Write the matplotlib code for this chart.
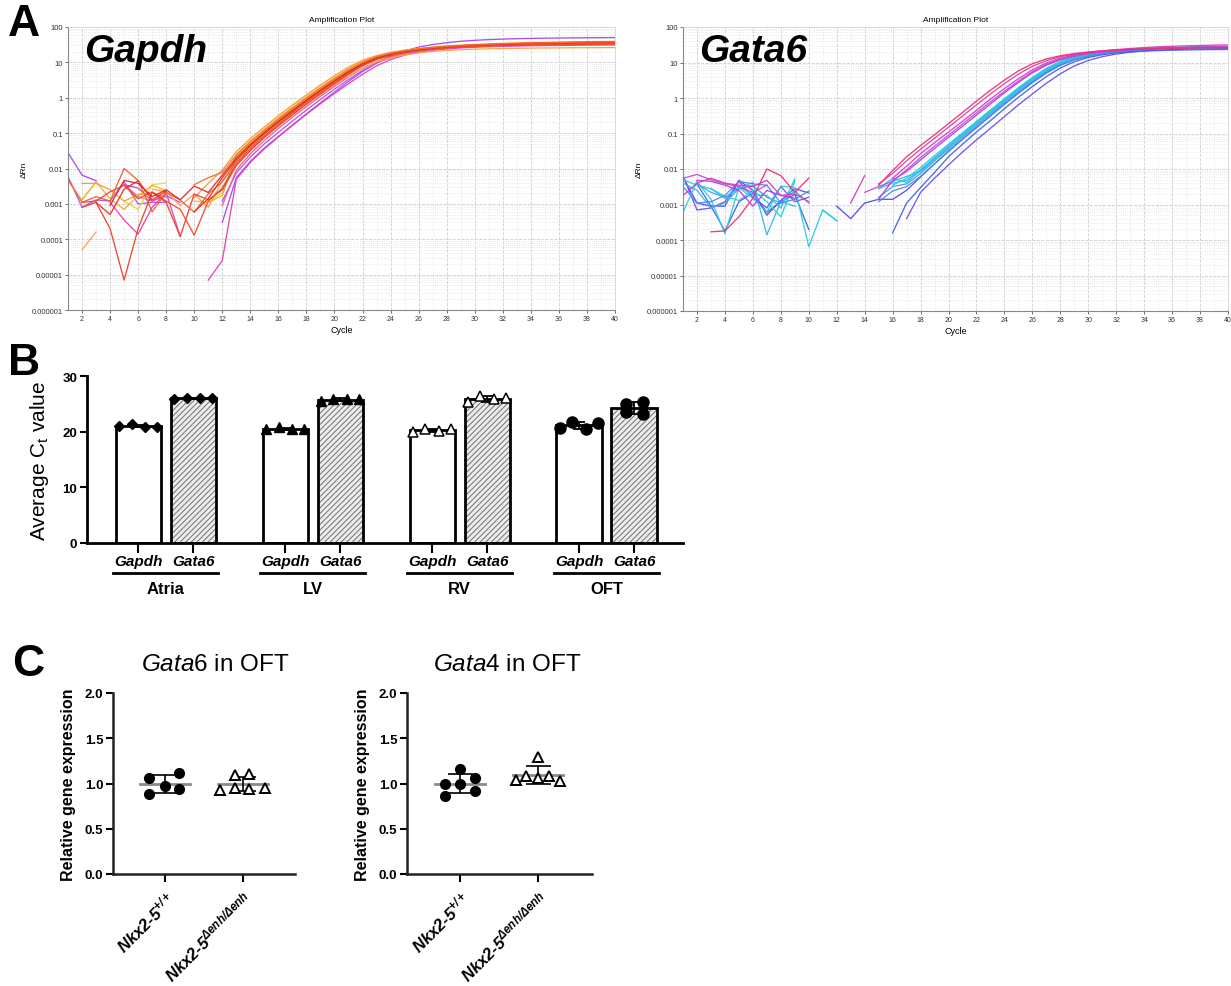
import numpy as np
import matplotlib
matplotlib.use('Agg')
import matplotlib.pyplot as plt
from matplotlib.ticker import LogLocator, MultipleLocator, NullFormatter

plt.rcParams['font.family'] = ['Liberation Sans', 'DejaVu Sans']
plt.rcParams['mathtext.default'] = 'regular'
plt.rcParams['mathtext.fontset'] = 'custom'
plt.rcParams['mathtext.rm'] = 'Liberation Sans'
plt.rcParams['mathtext.it'] = 'Liberation Sans:italic'
plt.rcParams['mathtext.bf'] = 'Liberation Sans:bold'
plt.rcParams['hatch.linewidth'] = 0.7

nan = np.nan
cycles = np.arange(1, 41)

# ---- A: amplification curves, delta Rn per cycle (1..40), nan = not plotted
gapdh_curves = [
    [0.028, 0.0065, 0.0045, nan, 0.0035, 0.0028, 0.0012, 0.0017, 0.0011, nan, nan, 0.0003, 0.0055, 0.016, 0.038, 0.08, 0.17, 0.35, 0.72, 1.45, 2.9, 5.5, 9.5, 15, 21, 27, 32, 36, 39.5, 42, 44, 45.5, 46.7, 47.6, 48.3, 48.9, 49.3, 49.7, 50, 50.2],
    [0.006, 0.0008, 0.0013, 0.0012, 0.0042, 0.001, 0.0011, 0.0011, nan, nan, nan, 0.0012, 0.0075, 0.021, 0.05, 0.105, 0.22, 0.45, 0.9, 1.75, 3.3, 5.9, 9.6, 13.6, 17.4, 20.6, 23.2, 25.3, 26.9, 28.1, 29, 29.7, 30.3, 30.8, 31.2, 31.5, 31.8, 32, 32.2, 32.4],
    [nan, nan, nan, 0.0011, 0.00035, 0.00014, 0.0008, 0.0021, 0.00012, nan, 7e-6, 2.5e-5, 0.005, 0.015, 0.036, 0.078, 0.165, 0.34, 0.68, 1.32, 2.5, 4.6, 8, 12, 16, 19.3, 22, 24, 25.6, 26.8, 27.7, 28.4, 29, 29.5, 29.9, 30.2, 30.5, 30.7, 30.9, 31.1],
    [nan, nan, nan, nan, 0.0035, 0.0016, 0.0012, 0.0019, nan, nan, nan, 0.0009, 0.009, 0.026, 0.062, 0.135, 0.28, 0.56, 1.1, 2.1, 3.9, 6.8, 10.5, 14.3, 17.8, 20.8, 23.2, 25.2, 26.8, 28, 29, 29.8, 30.5, 31.1, 31.6, 32, 32.4, 32.7, 33, 33.2],
    [0.0045, 0.0013, 0.0042, nan, 0.0012, 0.0007, 0.0035, 0.0039, nan, nan, 0.0011, 0.0021, 0.022, 0.05, 0.11, 0.23, 0.47, 0.92, 1.75, 3.2, 5.8, 9.5, 13.8, 17.5, 20.5, 23, 25, 26.6, 27.9, 28.9, 29.7, 30.4, 31, 31.5, 31.9, 32.2, 32.5, 32.8, 33, 33.2],
    [nan, 0.0013, 0.0042, 0.0014, 0.0007, 0.0017, 0.0033, 0.0024, nan, 0.0012, 0.0011, 0.0017, 0.025, 0.06, 0.13, 0.27, 0.54, 1.05, 2, 3.7, 6.6, 10.6, 15, 18.8, 22, 24.8, 27.1, 29.1, 30.8, 32.2, 33.4, 34.5, 35.4, 36.2, 36.9, 37.5, 38, 38.5, 38.9, 39.3],
    [nan, 5e-5, 0.00016, nan, 0.0019, nan, 0.0026, 0.0022, 0.0009, 0.0019, 0.0008, 0.0045, 0.013, 0.034, 0.078, 0.165, 0.33, 0.65, 1.25, 2.3, 4.1, 6.9, 10.2, 13.5, 16.3, 18.6, 20.4, 21.8, 22.8, 23.6, 24.2, 24.6, 25, 25.3, 25.5, 25.7, 25.9, 26, 26.1, 26.2],
    [nan, 0.0038, 0.0038, 0.0025, 0.0012, 0.0018, 0.0021, 0.0015, nan, 0.0015, 0.0038, 0.009, 0.03, 0.07, 0.15, 0.31, 0.62, 1.2, 2.3, 4.2, 7.3, 11.5, 15.5, 19, 22, 24.5, 26.6, 28.4, 29.9, 31.1, 32.1, 33, 33.8, 34.5, 35.1, 35.6, 36, 36.4, 36.7, 37],
    [nan, 0.0008, 0.0011, 0.0002, 7e-6, 0.0002, 0.0021, 0.0011, 0.00012, 0.0019, 0.0013, 0.0025, 0.012, 0.032, 0.075, 0.16, 0.33, 0.66, 1.3, 2.5, 4.6, 8, 12, 15.8, 19, 21.8, 24, 25.8, 27.2, 28.3, 29.2, 29.9, 30.5, 31, 31.4, 31.8, 32.1, 32.4, 32.6, 32.8],
    [0.005, 0.0011, 0.0016, 0.0012, 0.01, 0.0046, 0.0006, 0.0021, 0.0013, 0.00058, 0.0019, 0.0042, 0.016, 0.042, 0.095, 0.2, 0.4, 0.8, 1.55, 2.9, 5.2, 8.8, 13, 16.8, 20, 22.8, 25, 26.8, 28.3, 29.5, 30.4, 31.2, 31.8, 32.3, 32.8, 33.2, 33.5, 33.8, 34, 34.2],
    [nan, 0.0011, 0.0012, 0.0022, 0.0033, 0.0014, 0.0022, 0.0012, 0.0007, 0.00013, 0.0012, 0.0028, 0.014, 0.037, 0.085, 0.18, 0.37, 0.74, 1.42, 2.7, 4.9, 8.4, 12.6, 16.4, 19.6, 22.3, 24.5, 26.3, 27.8, 29, 30, 30.8, 31.5, 32.1, 32.6, 33, 33.4, 33.7, 34, 34.3],
    [nan, nan, nan, 0.0009, 0.0046, 0.0038, 0.0016, 0.0025, 0.0013, 0.0032, 0.0021, 0.0065, 0.02, 0.048, 0.105, 0.22, 0.44, 0.86, 1.65, 3.05, 5.5, 9.2, 13.5, 17.3, 20.5, 23.3, 25.6, 27.6, 29.3, 30.7, 31.9, 32.9, 33.8, 34.6, 35.3, 35.9, 36.4, 36.9, 37.3, 37.7],
    [nan, nan, 0.0011, 0.0005, 0.0026, 0.0045, 0.0013, 0.0023, nan, 0.0006, 0.0014, 0.0055, 0.018, 0.045, 0.1, 0.21, 0.42, 0.83, 1.6, 3, 5.4, 9, 13.3, 17.1, 20.4, 23.2, 25.5, 27.5, 29.2, 30.6, 31.8, 32.8, 33.7, 34.5, 35.2, 35.8, 36.3, 36.8, 37.2, 37.6],
    [nan, nan, nan, nan, nan, nan, nan, nan, nan, 0.0035, 0.0055, 0.0078, 0.024, 0.056, 0.12, 0.25, 0.5, 0.97, 1.85, 3.45, 6.1, 10, 14.3, 18.1, 21.3, 24, 26.3, 28.3, 30, 31.4, 32.6, 33.7, 34.6, 35.4, 36.1, 36.7, 37.2, 37.6, 38, 38.4],
]
gapdh_colors = ['#a646f2', '#b050e8', '#e83cb4', '#f05a8c', '#e6d44a', '#f0b030',
                '#f7a24a', '#f49a36', '#e8402e', '#f25c30', '#ee4a28', '#d62a2a',
                '#e83020', '#f46e2a']

gata6_curves = [
    [0.0065, 0.0007, 0.0008, 0.0012, 0.0045, 0.0016, 0.0008, 0.0032, 0.0012, 0.0016, nan, nan, nan, nan, nan, nan, 0.0004, 0.0022, 0.0055, 0.013, 0.03, 0.066, 0.14, 0.3, 0.64, 1.3, 2.6, 4.8, 8, 11.4, 14.6, 17.3, 19.5, 21.2, 22.5, 23.5, 24.3, 24.9, 25.4, 25.8],
    [nan, 0.0038, 0.0009, 0.00018, 0.0012, 0.0021, 0.0006, 0.0012, 0.0019, 0.0002, nan, nan, nan, nan, nan, 0.00016, 0.0011, 0.003, 0.008, 0.022, 0.05, 0.11, 0.23, 0.5, 1.05, 2.1, 4, 7, 10.5, 13.8, 16.5, 18.5, 20, 21, 21.7, 22.2, 22.6, 22.9, 23.1, 23.3],
    [0.006, 0.0011, 0.0009, 0.0009, 0.0048, 0.0025, 0.0005, 0.0013, 0.0028, 0.0021, nan, 0.0009, 0.0004, 0.0011, 0.0014, 0.0014, 0.0025, 0.006, 0.014, 0.032, 0.07, 0.15, 0.32, 0.68, 1.4, 2.8, 5.2, 8.6, 12, 15, 17.5, 19.5, 21, 22.2, 23.1, 23.8, 24.4, 24.9, 25.3, 25.6],
    [0.0006, 0.0045, 0.0014, 0.00015, 0.003, 0.0015, 0.0006, 0.0033, 0.003, 6.5e-5, 0.0007, 0.00035, nan, nan, 0.0028, 0.0055, 0.0042, 0.009, 0.02, 0.043, 0.092, 0.195, 0.41, 0.86, 1.75, 3.4, 6.2, 9.8, 13.3, 16.3, 18.8, 20.8, 22.4, 23.6, 24.5, 25.2, 25.7, 26.1, 26.4, 26.7],
    [0.004, 0.0025, 0.0008, 0.0011, 0.0028, 0.0042, 0.00014, 0.0012, 0.0009, nan, nan, nan, nan, nan, 0.0028, 0.004, 0.0048, 0.0095, 0.021, 0.045, 0.097, 0.205, 0.43, 0.9, 1.85, 3.6, 6.5, 10.2, 13.7, 16.7, 19.1, 21, 22.5, 23.7, 24.6, 25.3, 25.8, 26.2, 26.5, 26.8],
    [0.005, 0.0035, 0.0028, 0.0017, 0.0013, 0.0025, 0.0012, 0.00045, 0.0045, nan, 0.0007, 0.00035, nan, nan, nan, 0.0035, 0.0055, 0.011, 0.024, 0.05, 0.105, 0.22, 0.46, 0.96, 1.95, 3.8, 6.9, 10.8, 14.4, 17.4, 19.8, 21.7, 23.2, 24.4, 25.3, 26, 26.5, 26.9, 27.2, 27.5],
    [nan, 0.0038, 0.0022, 0.0016, 0.0028, 0.0034, 0.0016, 0.0011, 0.0024, 0.0011, nan, nan, nan, nan, 0.0016, 0.0032, 0.0038, 0.0075, 0.017, 0.037, 0.08, 0.17, 0.36, 0.76, 1.55, 3.05, 5.6, 9.1, 12.6, 15.7, 18.3, 20.4, 22, 23.3, 24.3, 25.1, 25.7, 26.2, 26.6, 26.9],
    [nan, nan, 0.0028, 0.0015, 0.0032, 0.0019, 0.0018, 0.0008, 0.0052, nan, nan, nan, nan, nan, nan, 0.0045, 0.0062, 0.0085, 0.018, 0.039, 0.084, 0.18, 0.38, 0.8, 1.65, 3.25, 6, 9.6, 13.2, 16.3, 18.9, 21, 22.7, 24, 25.2, 26.2, 27, 27.7, 28.3, 28.8],
    [0.0032, 0.0011, 0.0012, 0.0018, 0.0045, 0.0038, 0.0035, 0.0011, 0.0014, 0.0024, nan, nan, nan, nan, 0.0012, 0.0024, 0.0032, 0.0062, 0.014, 0.031, 0.068, 0.145, 0.31, 0.66, 1.35, 2.7, 5, 8.3, 11.8, 15, 17.7, 19.9, 21.6, 22.9, 23.9, 24.7, 25.3, 25.8, 26.2, 26.5],
    [nan, 0.0048, 0.0045, 0.0035, 0.0025, 0.0009, 0.0025, 0.0018, 0.0015, nan, nan, nan, nan, nan, 0.0014, 0.0048, 0.0085, 0.018, 0.038, 0.078, 0.16, 0.33, 0.68, 1.4, 2.75, 5.1, 8.4, 11.9, 15, 17.6, 19.7, 21.4, 22.8, 23.9, 24.8, 25.5, 26.1, 26.6, 27, 27.3],
    [0.0055, 0.007, 0.005, 0.0038, 0.0032, 0.0022, 0.0035, nan, nan, nan, nan, nan, nan, 0.0022, 0.0032, 0.0045, 0.0095, 0.021, 0.044, 0.09, 0.185, 0.38, 0.78, 1.55, 3, 5.5, 8.9, 12.4, 15.5, 18.1, 20.2, 21.9, 23.3, 24.4, 25.3, 26, 26.6, 27.1, 27.5, 27.8],
    [nan, nan, nan, nan, nan, nan, nan, nan, nan, nan, nan, nan, nan, nan, 0.0038, 0.0075, 0.017, 0.036, 0.074, 0.15, 0.31, 0.64, 1.3, 2.55, 4.7, 7.8, 11.3, 14.5, 17.2, 19.4, 21.2, 22.6, 23.7, 24.6, 25.3, 25.9, 26.4, 26.8, 27.1, 27.4],
    [0.0018, 0.004, 0.0055, 0.004, 0.0035, 0.0032, 0.0048, 0.0018, 0.002, 0.0012, nan, nan, 0.0011, 0.0065, nan, 0.0055, 0.012, 0.027, 0.055, 0.11, 0.22, 0.45, 0.93, 1.85, 3.5, 6.2, 9.7, 13.2, 16.2, 18.8, 21, 23, 24.8, 26.3, 27.6, 28.6, 29.5, 30.2, 30.8, 31.3],
    [nan, nan, 0.00017, 0.00018, 0.00045, 0.0015, 0.01, 0.0065, 0.0022, 0.0055, nan, nan, nan, nan, 0.0035, 0.009, 0.022, 0.046, 0.092, 0.19, 0.39, 0.82, 1.65, 3.2, 5.8, 9.2, 12.6, 15.5, 17.9, 19.8, 21.3, 22.5, 23.4, 24.1, 24.7, 25.1, 25.5, 25.8, 26, 26.2],
]
gata6_colors = ['#6a50ec', '#3c64e4', '#5448e6', '#2ec8e6', '#3ab4ea', '#28d0e0',
                '#46a0ec', '#34bce8', '#4c8ce6', '#b23ce0', '#c24ae6', '#e0409e',
                '#d83cb4', '#e8307c']

# ---- B: average Ct values (4 samples each)
tissues = ['Atria', 'LV', 'RV', 'OFT']
genes_b = ['Gapdh', 'Gata6']
ct_gapdh = [[21.0, 21.3, 20.9, 20.9],
            [20.5, 20.8, 20.4, 20.5],
            [19.9, 20.5, 20.1, 20.4],
            [20.6, 21.8, 20.5, 21.6]]
ct_gata6 = [[25.9, 26.1, 26.0, 26.0],
            [25.5, 25.9, 25.8, 25.9],
            [25.3, 26.4, 25.8, 26.0],
            [25.0, 23.5, 25.3, 23.2]]

# ---- C: relative gene expression in OFT
genotypes = ['Nkx2-5$^{+/+}$', 'Nkx2-5$^{Δenh/Δenh}$']
gata6_wt = [1.06, 0.88, 0.97, 1.12, 0.94]
gata6_mut = [0.93, 1.09, 0.95, 1.10, 0.94, 0.95]
gata4_wt = [1.00, 0.86, 1.16, 0.99, 1.06, 0.92]
gata4_mut = [1.04, 1.08, 1.29, 1.06, 1.08, 1.03]

W, H = 1231, 987
fig = plt.figure(figsize=(W / 100, H / 100), dpi=100)


def px(x0, y0, x1, y1):
    return [x0 / W, 1 - y1 / H, (x1 - x0) / W, (y1 - y0) / H]


# ================= A =================
dec = [1e-6, 1e-5, 1e-4, 1e-3, 1e-2, 1e-1, 1, 10, 100]
dec_lab = ['0.000001', '0.00001', '0.0001', '0.001', '0.01', '0.1', '1', '10', '100']


def amp_panel(rect, curves, colors, gene):
    ax = fig.add_axes(rect)
    for vals, c in zip(curves, colors):
        ax.plot(cycles, vals, color=c, lw=0.95, alpha=0.95)
    ax.set_yscale('log')
    ax.set_xlim(1, 40)
    ax.set_ylim(1e-6, 100)
    ax.set_yticks(dec)
    ax.set_yticklabels(dec_lab, fontsize=5.5)
    ax.yaxis.set_minor_locator(LogLocator(base=10, subs=np.arange(2, 10), numticks=20))
    ax.yaxis.set_minor_formatter(NullFormatter())
    ax.set_xticks(np.arange(2, 41, 2))
    ax.set_xticklabels([str(v) for v in range(2, 41, 2)], fontsize=5)
    ax.xaxis.set_minor_locator(MultipleLocator(1))
    ax.grid(which='major', color='#cfcfcf', ls='--', lw=0.6)
    ax.grid(which='minor', color='#e2e2e2', ls=':', lw=0.6)
    ax.set_axisbelow(True)
    ax.tick_params(which='major', length=2, width=0.5, colors='#333', pad=1.5)
    ax.tick_params(which='minor', length=0)
    for s in ['left', 'bottom']:
        ax.spines[s].set_color('#888')
        ax.spines[s].set_linewidth(0.8)
    for s in ['top', 'right']:
        ax.spines[s].set_color('#d5d5d5')
        ax.spines[s].set_linewidth(0.6)
    ax.text(0.03, 0.915, gene, transform=ax.transAxes, fontsize=28,
            fontweight='bold', fontstyle='italic', va='center', ha='left')
    ax.set_xlabel('Cycle', fontsize=6.5, labelpad=2)
    ax.set_ylabel('ΔRn', fontsize=6, labelpad=3)
    ax.set_title('Amplification Plot', fontsize=6, pad=4)
    return ax


amp_panel(px(68, 28, 615, 311), gapdh_curves, gapdh_colors, 'Gapdh')
amp_panel(px(683, 28, 1228, 312), gata6_curves, gata6_colors, 'Gata6')

# ================= B =================
axb = fig.add_axes(px(87, 377, 683, 544))
group_x = np.arange(4) * 2.673
bw = 0.82
pt_off = np.array([-0.35, -0.12, 0.12, 0.35])
markers = [dict(marker='D', ms=5.5, mfc='black'),
           dict(marker='^', ms=6.5, mfc='black'),
           dict(marker='^', ms=7, mfc='white', mew=1.1),
           dict(marker='o', ms=8, mfc='black')]
centers = []
for gi in range(4):
    for k, vals in enumerate([ct_gapdh[gi], ct_gata6[gi]]):
        x = group_x[gi] + k
        centers.append(x)
        m = np.mean(vals)
        sd = np.std(vals, ddof=1)
        if k == 0:
            axb.bar(x, m, bw, color='white', edgecolor='black', lw=2, zorder=2)
        else:
            axb.bar(x, m, bw, color='#ececec', edgecolor='#707070', hatch='//////',
                    lw=0, zorder=2)
            axb.bar(x, m, bw, fill=False, edgecolor='black', lw=2, zorder=3)
        axb.errorbar(x, m, yerr=sd, color='black', capsize=4, lw=1.3, capthick=1.3,
                     zorder=4)
        offs = pt_off if not (gi == 3 and k == 1) else np.array([-0.15, -0.15, 0.16, 0.16])
        axb.plot(x + offs, vals, ls='none', mec='black', color='black', zorder=5,
                 clip_on=False, **markers[gi])
axb.set_xlim(-0.93, 9.91)
axb.set_ylim(0, 30)
axb.set_yticks([0, 10, 20, 30])
axb.set_yticklabels(['0', '10', '20', '30'], fontsize=9.5, fontweight='bold')
axb.set_xticks(centers)
axb.set_xticklabels([])
axb.tick_params(axis='y', length=5, width=1.5, pad=2)
axb.tick_params(axis='x', length=7, width=1.5)
for s in ['top', 'right']:
    axb.spines[s].set_visible(False)
for s in ['left', 'bottom']:
    axb.spines[s].set_linewidth(2)
axb.set_ylabel('Average C$_t$ value', fontsize=15, labelpad=8)
for gi, t in enumerate(tissues):
    for k, g in enumerate(genes_b):
        axb.text(group_x[gi] + k, -0.108, g, transform=axb.get_xaxis_transform(),
                 ha='center', va='center', fontsize=11, fontweight='bold',
                 fontstyle='italic')
    axb.plot([group_x[gi] - bw / 2 - 0.05, group_x[gi] + 1 + bw / 2 + 0.05], [-0.18, -0.18],
             transform=axb.get_xaxis_transform(), color='black', lw=2, clip_on=False)
    axb.text(group_x[gi] + 0.5, -0.27, t, transform=axb.get_xaxis_transform(),
             ha='center', va='center', fontsize=12, fontweight='bold')


# ================= C =================
def dot_panel(rect, wt, mut, wt_off, mut_off, xlim):
    ax = fig.add_axes(rect)
    for i, (vals, off) in enumerate([(wt, wt_off), (mut, mut_off)]):
        m = np.mean(vals)
        sd = np.std(vals, ddof=1)
        ax.plot([i - 0.32, i + 0.32], [m, m], color='#8a8a8a', lw=2, zorder=2)
        ax.errorbar(i, m, yerr=sd, color='black', capsize=9, lw=1.2, capthick=1.2,
                    zorder=3)
        if i == 0:
            ax.plot(i + np.array(off), vals, 'o', ms=7, color='black', zorder=4)
        else:
            ax.plot(i + np.array(off), vals, '^', ms=7.5, mfc='white', mec='black',
                    mew=1.4, zorder=4)
    ax.set_xlim(*xlim)
    ax.set_ylim(0, 2.0)
    ax.set_yticks([0, 0.5, 1.0, 1.5, 2.0])
    ax.set_yticklabels(['0.0', '0.5', '1.0', '1.5', '2.0'], fontsize=9.5,
                       fontweight='bold')
    ax.set_xticks([0, 1])
    ax.set_xticklabels(genotypes, rotation=45, ha='right', va='top',
                       rotation_mode='anchor', fontsize=12, fontweight='bold',
                       fontstyle='italic')
    ax.tick_params(axis='y', length=5, width=1.5, pad=2)
    ax.tick_params(axis='x', length=6, width=1.5, pad=4)
    for s in ['top', 'right']:
        ax.spines[s].set_visible(False)
    for s in ['left', 'bottom']:
        ax.spines[s].set_linewidth(1.8)
        ax.spines[s].set_color('#222')
    ax.set_ylabel('Relative gene expression', fontsize=11.5, fontweight='bold',
                  labelpad=6)
    return ax


dot_panel(px(113, 694, 295, 875), gata6_wt, gata6_mut,
          [-0.2, -0.2, 0.0, 0.18, 0.18], [-0.3, -0.1, -0.1, 0.08, 0.08, 0.28],
          (-0.667, 1.667))
dot_panel(px(407, 694, 592, 875), gata4_wt, gata4_mut,
          [-0.19, -0.19, 0.0, 0.0, 0.19, 0.19], [-0.29, -0.15, 0.0, 0.0, 0.14, 0.28],
          (-0.68, 1.69))
fig.text(215 / W, 1 - 665 / H, '$\\mathit{Gata6}$ in OFT', fontsize=17.5,
         ha='center', va='center')
fig.text(507 / W, 1 - 665 / H, '$\\mathit{Gata4}$ in OFT', fontsize=17.5,
         ha='center', va='center')

# panel letters
fig.text(8 / W, 1 - 25 / H, 'A', fontsize=32, fontweight='bold', va='center')
fig.text(8 / W, 1 - 364 / H, 'B', fontsize=32, fontweight='bold', va='center')
fig.text(12 / W, 1 - 665 / H, 'C', fontsize=32, fontweight='bold', va='center')

fig.savefig('out.png', dpi=100)
